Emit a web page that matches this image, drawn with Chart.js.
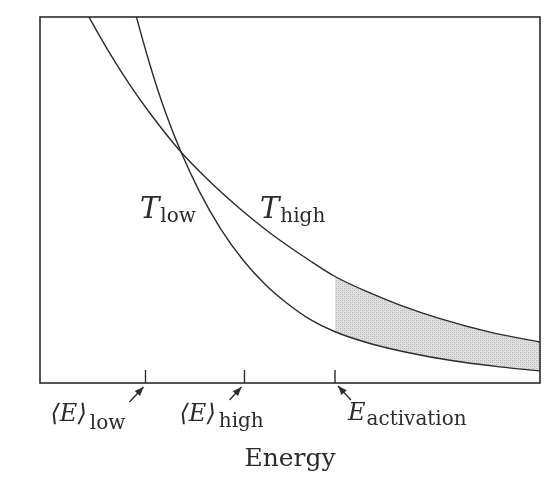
<!DOCTYPE html>
<html>
<head>
<meta charset="utf-8">
<script src="https://cdn.jsdelivr.net/npm/chart.js@4.4.1/dist/chart.umd.min.js"></script>
<style>
  html, body { margin: 0; padding: 0; background: #ffffff; }
  #c { display: block; }
</style>
</head>
<body>
<canvas id="c" width="558" height="479"></canvas>
<script>
// Boltzmann-type energy distributions at two temperatures (energy in arbitrary units 0..100)
const energyHigh = [8, 10, 14, 18, 22, 28.2, 34, 40, 46, 54, 59, 66, 72, 80, 90, 100];
const populationHigh = [104.6, 99.5, 90.0, 81.4, 73.7, 63.1, 55.0, 47.6, 41.0, 33.4, 29.1, 24.6, 21.3, 17.6, 13.9, 11.2];

const energyLow = [17, 19, 22, 25, 28.2, 32, 36, 40.6, 45, 49.4, 54, 59, 66, 74, 82, 92, 100];
const populationLow = [112.4, 101.5, 86.9, 74.3, 63.1, 52.0, 42.4, 33.6, 27.0, 21.8, 17.4, 14.0, 10.8, 8.2, 6.2, 4.4, 3.3];

// Marked energies on the axis
const markerEnergies = [21.1, 40.9, 59];
const markerMain = ['\u27E8E\u27E9', '\u27E8E\u27E9', 'E'];
const markerSub = ['low', 'high', 'activation'];
const activationEnergy = 59;

// Curve labels
const curveNames = ['low', 'high'];
const curveLabelAt = [[20, 45], [44, 45]];

const axisTitle = 'Energy';

const toPoints = (xs, ys) => xs.map((x, i) => ({ x: x, y: ys[i] }));
const aboveActivation = pts => pts.filter(p => p.x >= activationEnergy);

const highPts = toPoints(energyHigh, populationHigh);
const lowPts = toPoints(energyLow, populationLow);

// stippled grey fill for the region above the activation energy
function stipple() {
  const p = document.createElement('canvas');
  p.width = 4; p.height = 4;
  const g = p.getContext('2d');
  g.fillStyle = '#dfdfdf';
  g.fillRect(0, 0, 4, 4);
  g.fillStyle = '#b4b4b4';
  g.fillRect(0, 0, 1, 1);
  g.fillRect(2, 2, 1, 1);
  g.fillStyle = '#cacaca';
  g.fillRect(2, 0, 1, 1);
  g.fillRect(0, 2, 1, 1);
  return g.createPattern(p, 'repeat');
}

const INK = '#2b2b2b';
const SERIF = '"DejaVu Serif", "Liberation Serif", serif';

function drawWithSub(ctx, x, baseline, main, mainFont, sub, subFont, drop, gap) {
  ctx.font = mainFont;
  ctx.fillText(main, x, baseline);
  const w = ctx.measureText(main).width;
  ctx.font = subFont;
  ctx.fillText(sub, x + w + gap, baseline + drop);
}

function arrow(ctx, x0, y0, x1, y1) {
  ctx.beginPath();
  ctx.moveTo(x0, y0);
  ctx.lineTo(x1, y1);
  ctx.stroke();
  const a = Math.atan2(y1 - y0, x1 - x0);
  const L = 9, W = 3.6;
  ctx.beginPath();
  ctx.moveTo(x1, y1);
  ctx.lineTo(x1 - L * Math.cos(a) + W * Math.sin(a), y1 - L * Math.sin(a) - W * Math.cos(a));
  ctx.lineTo(x1 - L * Math.cos(a) - W * Math.sin(a), y1 - L * Math.sin(a) + W * Math.cos(a));
  ctx.closePath();
  ctx.fill();
}

const decorations = {
  id: 'decorations',
  afterDraw(chart) {
    const { ctx, chartArea: a, scales } = chart;
    const xs = scales.x, ys = scales.y;
    ctx.save();
    ctx.strokeStyle = INK;
    ctx.fillStyle = INK;

    // frame
    ctx.lineWidth = 1.6;
    ctx.strokeRect(a.left, a.top, a.right - a.left, a.bottom - a.top);

    // tick marks, arrows and labels
    ctx.lineWidth = 1.4;
    ctx.textBaseline = 'alphabetic';
    ctx.textAlign = 'left';
    markerEnergies.forEach(e => {
      const px = xs.getPixelForValue(e);
      ctx.beginPath();
      ctx.moveTo(px, a.bottom);
      ctx.lineTo(px, a.bottom - 13);
      ctx.stroke();
    });
    const mainFont = 'italic 24px ' + SERIF;
    const subFont = '20px ' + SERIF;

    let p = xs.getPixelForValue(markerEnergies[0]);
    arrow(ctx, p - 16, a.bottom + 19, p - 2, a.bottom + 4);
    drawWithSub(ctx, p - 95, 421, markerMain[0], mainFont, markerSub[0], subFont, 8, 3);

    p = xs.getPixelForValue(markerEnergies[1]);
    arrow(ctx, p - 15, a.bottom + 17, p - 3, a.bottom + 4);
    drawWithSub(ctx, p - 65, 421, markerMain[1], mainFont, markerSub[1], subFont, 6, 3);

    p = xs.getPixelForValue(markerEnergies[2]);
    arrow(ctx, p + 16, a.bottom + 17, p + 3, a.bottom + 3);
    drawWithSub(ctx, p + 13, 420, markerMain[2], mainFont, markerSub[2], subFont, 5, 1);

    // curve labels
    curveNames.forEach((name, i) => {
      const lx = xs.getPixelForValue(curveLabelAt[i][0]);
      const ly = ys.getPixelForValue(curveLabelAt[i][1]);
      drawWithSub(ctx, lx, ly, 'T', 'italic 29px ' + SERIF, name, '20px ' + SERIF, 4, 1);
    });

    // axis title
    ctx.font = '25px ' + SERIF;
    ctx.textAlign = 'center';
    ctx.fillText(axisTitle, (a.left + a.right) / 2, 466);
    ctx.restore();
  }
};

new Chart(document.getElementById('c'), {
  type: 'line',
  data: {
    datasets: [
      {
        label: 'shade-base',
        data: aboveActivation(lowPts),
        borderWidth: 0,
        pointRadius: 0,
        fill: false,
        order: 3
      },
      {
        label: 'shade',
        data: aboveActivation(highPts),
        borderWidth: 0,
        pointRadius: 0,
        backgroundColor: stipple(),
        fill: 0,
        order: 2
      },
      {
        label: 'T high',
        data: highPts,
        borderColor: INK,
        borderWidth: 1.4,
        pointRadius: 0,
        cubicInterpolationMode: 'monotone',
        fill: false,
        order: 1
      },
      {
        label: 'T low',
        data: lowPts,
        borderColor: INK,
        borderWidth: 1.4,
        pointRadius: 0,
        cubicInterpolationMode: 'monotone',
        fill: false,
        order: 0
      }
    ]
  },
  options: {
    responsive: false,
    animation: false,
    devicePixelRatio: 1,
    layout: { padding: { left: 40, right: 18, top: 17, bottom: 96 } },
    scales: {
      x: { type: 'linear', min: 0, max: 100, display: false },
      y: { type: 'linear', min: 0, max: 100, display: false }
    },
    plugins: {
      legend: { display: false },
      tooltip: { enabled: false },
      filler: { propagate: false }
    }
  },
  plugins: [decorations]
});
</script>
</body>
</html>
